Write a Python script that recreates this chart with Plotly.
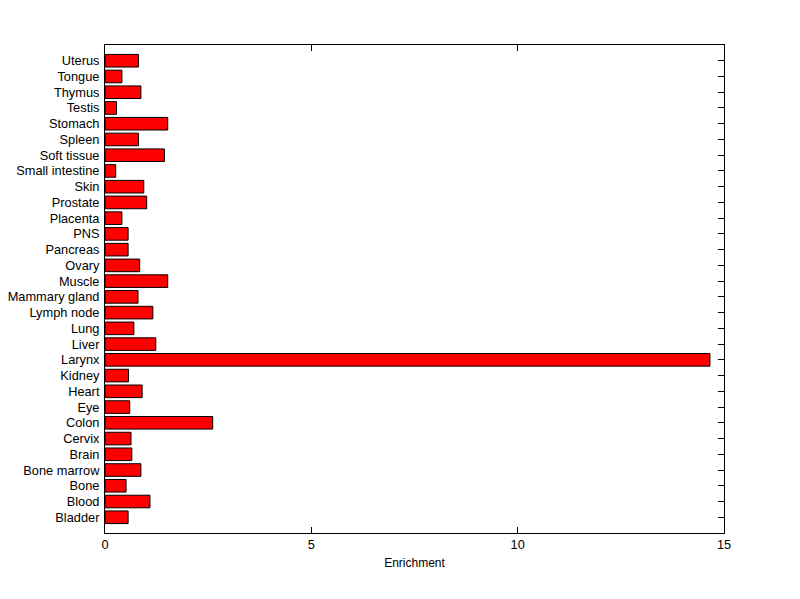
import plotly.graph_objects as go

categories = ["Bladder", "Blood", "Bone", "Bone marrow", "Brain", "Cervix", "Colon", "Eye",
              "Heart", "Kidney", "Larynx", "Liver", "Lung", "Lymph node", "Mammary gland",
              "Muscle", "Ovary", "Pancreas", "PNS", "Placenta", "Prostate", "Skin",
              "Small intestine", "Soft tissue", "Spleen", "Stomach", "Testis", "Thymus",
              "Tongue", "Uterus"]
enrichment = [0.56, 1.09, 0.51, 0.87, 0.65, 0.63, 2.61, 0.60,
              0.90, 0.57, 14.66, 1.23, 0.70, 1.16, 0.80,
              1.52, 0.84, 0.56, 0.56, 0.41, 1.01, 0.94,
              0.26, 1.44, 0.81, 1.52, 0.28, 0.87,
              0.41, 0.81]
x_ticks = [0, 5, 10, 15]

fig = go.Figure(go.Bar(
    x=enrichment, y=list(range(len(categories))), orientation="h",
    width=0.8,
    marker=dict(color="#FF0000", line=dict(color="black", width=1)),
))

font = dict(family="Liberation Sans, Arial, sans-serif", size=12.8, color="black")

fig.update_layout(
    width=792, height=591,
    margin=dict(l=97, r=76, t=37, b=66),
    paper_bgcolor="white", plot_bgcolor="white",
    showlegend=False,
    font=font,
    bargap=0.2,
    xaxis=dict(
        range=[0, 15], tickvals=x_ticks, ticktext=[str(v) for v in x_ticks],
        ticks="inside", ticklen=6, tickcolor="black", tickwidth=1,
        showline=True, linecolor="black", linewidth=1, mirror="allticks",
        showgrid=False, zeroline=False, automargin=False,
        title=dict(text="Enrichment", font=dict(family=font["family"], size=12, color="black"), standoff=7),
        tickfont=font,
    ),
    yaxis=dict(
        range=[-1, len(categories)], tickvals=list(range(len(categories))), ticktext=categories,
        ticks="inside", ticklen=6, tickcolor="black", tickwidth=1,
        showline=True, linecolor="black", linewidth=1, mirror="allticks",
        showgrid=False, zeroline=False, layer="below traces", automargin=False,
        tickfont=font, ticklabelstandoff=2,
    ),
)

fig.write_html("out.html")
